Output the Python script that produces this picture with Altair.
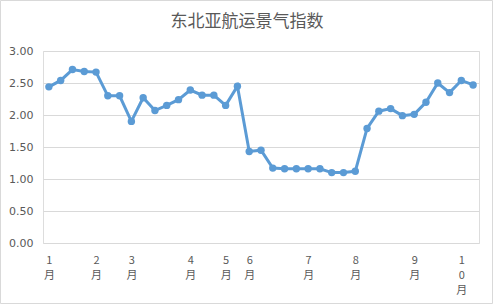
import altair as alt
import pandas as pd

title_text = "东北亚航运景气指数"
values = [2.44, 2.54, 2.71, 2.68, 2.67, 2.30, 2.30, 1.90, 2.27, 2.07, 2.15, 2.24,
          2.39, 2.31, 2.31, 2.15, 2.45, 1.43, 1.45, 1.17, 1.16, 1.16, 1.16, 1.16,
          1.10, 1.10, 1.12, 1.79, 2.06, 2.10, 1.99, 2.01, 2.20, 2.50, 2.35, 2.54, 2.47]
tick_index = [0, 4, 7, 12, 15, 17, 22, 26, 31, 35]
tick_labels = ["1月", "2月", "3月", "4月", "5月", "6月", "7月", "8月", "9月", "10月"]
y_ticks = [0, 0.5, 1.0, 1.5, 2.0, 2.5, 3.0]

df = pd.DataFrame({"i": list(range(len(values))), "v": values})

parts = []
for idx, lab in zip(tick_index, tick_labels):
    chars = ",".join("'" + c + "'" for c in lab)
    parts.append(f"datum.value == {idx} ? [{chars}]")
label_expr = " : ".join(parts) + " : ''"

color = "#5B9BD5"
x = alt.X("i:Q", scale=alt.Scale(domain=[-0.5, 36.5], nice=False, zero=False),
          axis=alt.Axis(values=tick_index, labelExpr=label_expr, title=None,
                        grid=False, ticks=False, domain=False, labelPadding=11,
                        labelLineHeight=15, labelFontSize=11, labelColor="#595959",
                        labelFont="Noto Sans CJK SC", labelAngle=0))
y = alt.Y("v:Q", scale=alt.Scale(domain=[0, 3], nice=False),
          axis=alt.Axis(values=y_ticks, format=".2f", title=None, ticks=False,
                        domain=False, gridColor="#d9d9d9", labelPadding=10,
                        labelFontSize=11, labelColor="#595959", labelFont="DejaVu Sans"))

base = alt.Chart(df)
line = base.mark_line(color=color, strokeWidth=3).encode(x=x, y=y)
pts = base.mark_circle(color=color, size=55, opacity=1).encode(x=x, y=y)

one = alt.Chart(pd.DataFrame({"t": [title_text]}))
frame = one.mark_rect(fill=None, stroke="#d9d9d9", strokeWidth=1).encode(
    x=alt.value(-42.5), x2=alt.value(449.5), y=alt.value(-50.5), y2=alt.value(252.5))
title = one.mark_text(font="Noto Sans CJK SC", fontSize=17, color="#595959",
                      align="center", baseline="middle").encode(
    text="t:N", x=alt.value(204), y=alt.value(-29))

chart = (frame + title + line + pts).properties(
    width=436, height=192,
    autosize=alt.AutoSizeParams(type="none"),
    padding={"left": 43, "top": 51, "right": 15, "bottom": 62},
).configure_view(stroke=None).configure(background="white")

chart.save("out.html", embed_options={"renderer": "svg", "actions": False})
